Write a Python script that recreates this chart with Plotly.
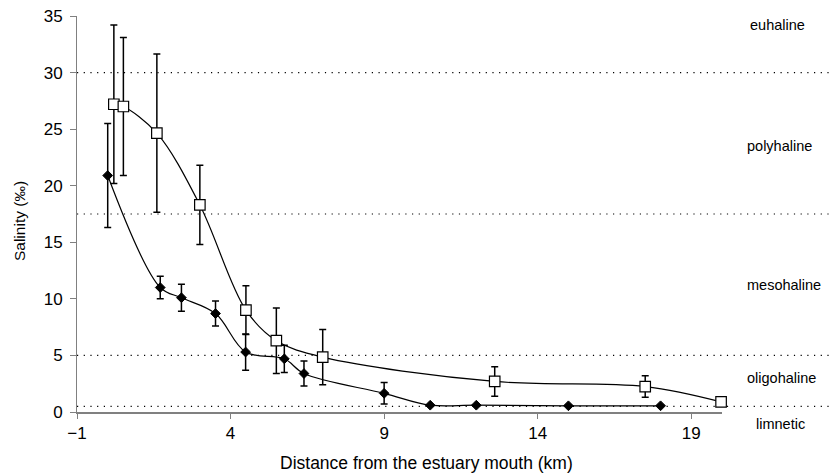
import plotly.graph_objects as go

# Series A: black diamonds
dist_a = [0.0, 1.71, 2.40, 3.51, 4.49, 5.75, 6.39, 9.0, 10.5, 12.0, 15.0, 18.0]
sal_a = [20.9, 11.0, 10.1, 8.7, 5.3, 4.7, 3.4, 1.65, 0.6, 0.6, 0.55, 0.55]
err_a = [4.6, 1.0, 1.2, 1.1, 1.6, 1.2, 1.1, 0.95, 0.05, 0.05, 0.05, 0.05]

# Series B: white squares
dist_b = [0.2, 0.51, 1.6, 3.0, 4.5, 5.49, 7.0, 12.6, 17.5, 19.97]
sal_b = [27.2, 27.0, 24.65, 18.3, 9.0, 6.3, 4.85, 2.7, 2.25, 0.9]
err_b = [7.0, 6.1, 7.0, 3.5, 2.15, 2.9, 2.45, 1.3, 0.95, 0.3]

# Salinity zone boundaries and labels
zone_limits = [30, 17.5, 5, 0.5]
zone_names = ["euhaline", "polyhaline", "mesohaline", "oligohaline", "limnetic"]

x_ticks = [-1, 4, 9, 14, 19]
y_ticks = [0, 5, 10, 15, 20, 25, 30, 35]

W, H = 833, 473
L, R, T, B = 76.5, 111, 15.7, 60.7
pw, ph = W - L - R, H - T - B


def px_x(p):
    return (p - L) / pw


def px_y(p):
    return (H - B - p) / ph


zone_label_px = [(778, 25), (780, 146), (784, 285), (782, 378), (781, 424)]

fig = go.Figure()

fig.add_trace(go.Scatter(
    x=dist_b, y=sal_b, mode="lines+markers",
    line=dict(color="black", width=1.2, shape="spline", smoothing=1.0),
    marker=dict(symbol="square", size=10.5, color="white", line=dict(color="black", width=1.2)),
    error_y=dict(type="data", array=err_b, visible=True, color="black", thickness=1.5, width=3.5),
    showlegend=False, cliponaxis=False,
))
fig.add_trace(go.Scatter(
    x=dist_a, y=sal_a, mode="lines+markers",
    line=dict(color="black", width=1.2, shape="spline", smoothing=1.0),
    marker=dict(symbol="diamond", size=7.5, color="black", line=dict(color="black", width=1)),
    error_y=dict(type="data", array=err_a, visible=True, color="black", thickness=1.5, width=3.5),
    showlegend=False, cliponaxis=False,
))

for v in zone_limits:
    fig.add_shape(type="line", xref="paper", yref="y", x0=0, x1=px_x(W), y0=v, y1=v,
                  line=dict(color="black", width=1.2, dash="1.2px,5.5px"), layer="below")

for name, (lx, ly) in zip(zone_names, zone_label_px):
    fig.add_annotation(x=px_x(lx), xref="paper", y=px_y(ly), yref="paper",
                       text=name, showarrow=False, xanchor="center", yanchor="middle",
                       font=dict(size=14.5, color="black"))

fig.add_annotation(x=px_x(426.5), xref="paper", y=px_y(463), yref="paper",
                   text="Distance from the estuary mouth (km)", showarrow=False,
                   xanchor="center", yanchor="middle", font=dict(size=17.5, color="black"))
fig.add_annotation(x=px_x(19.5), xref="paper", y=px_y(221), yref="paper",
                   text="Salinity (‰)", showarrow=False, textangle=-90,
                   xanchor="center", yanchor="middle", font=dict(size=15.5, color="black"))

fig.update_layout(
    width=W, height=H,
    margin=dict(l=L, r=R, t=T, b=B, pad=0),
    paper_bgcolor="white", plot_bgcolor="white",
    font=dict(family="Liberation Sans, Arial", color="black"),
    xaxis=dict(range=[-1, 20], tickvals=x_ticks, ticks="outside", ticklen=5, tickcolor="#808080",
               showline=True, linecolor="#808080", linewidth=2, showgrid=False, zeroline=False,
               tickfont=dict(size=17), automargin=False),
    yaxis=dict(range=[0, 35], tickvals=y_ticks, ticks="outside", ticklen=6, tickcolor="#808080",
               showline=True, linecolor="#808080", linewidth=1, showgrid=False, zeroline=False,
               tickfont=dict(size=17), automargin=False, ticklabelstandoff=4),
)

fig.write_html("out.html")
